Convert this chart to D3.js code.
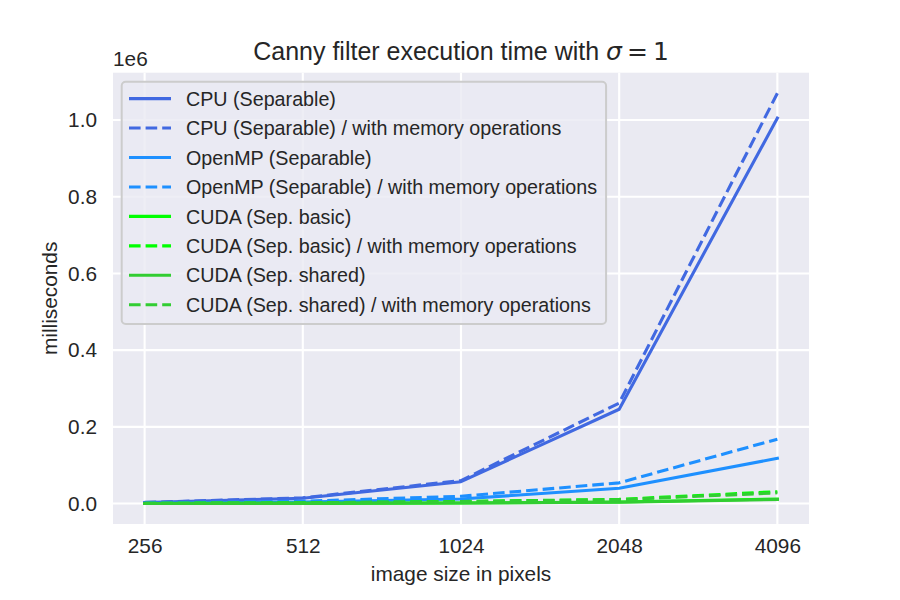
<!DOCTYPE html>
<html>
<head>
<meta charset="utf-8">
<script src="https://cdn.jsdelivr.net/npm/d3@7"></script>
<style>
  html, body { margin: 0; padding: 0; background: #ffffff; }
  svg { display: block; }
  text { font-family: "Liberation Sans", Arial, sans-serif; fill: #262626; }
</style>
</head>
<body>
<svg id="chart" width="900" height="600"></svg>
<script>
// ---- Data ----
const sizes = ["256", "512", "1024", "2048", "4096"];
const cpuSep        = [2500, 14000, 57000, 246000, 1005000];
const cpuSepMem     = [3000, 15000, 60000, 262000, 1070000];
const ompSep        = [1000, 4000, 12000, 40000, 118000];
const ompSepMem     = [1500, 6000, 19000, 54000, 168000];
const cudaBasic     = [200, 600, 1500, 4000, 12000];
const cudaBasicMem  = [600, 2000, 5500, 11000, 31000];
const cudaShared    = [200, 500, 1300, 3500, 10500];
const cudaSharedMem = [500, 1800, 5000, 10000, 28000];
const yTicks = [0, 200000, 400000, 600000, 800000, 1000000];
const yTickLabels = ["0.0", "0.2", "0.4", "0.6", "0.8", "1.0"];

const seriesNames = [
  "CPU (Separable)",
  "CPU (Separable) / with memory operations",
  "OpenMP (Separable)",
  "OpenMP (Separable) / with memory operations",
  "CUDA (Sep. basic)",
  "CUDA (Sep. basic) / with memory operations",
  "CUDA (Sep. shared)",
  "CUDA (Sep. shared) / with memory operations"
];
const seriesValues = [cpuSep, cpuSepMem, ompSep, ompSepMem, cudaBasic, cudaBasicMem, cudaShared, cudaSharedMem];
const seriesColors = ["#4169E1", "#4169E1", "#1E90FF", "#1E90FF", "#00FF00", "#00FF00", "#32CD32", "#32CD32"];
const seriesDashed = [false, true, false, true, false, true, false, true];

// ---- Layout ----
const svg = d3.select("#chart");
const pL = 113, pR = 809, pT = 72.7, pB = 524;
const FS = 20.8;
const LFS = 19.7;
const LW = 3.1;

const x = d3.scalePoint().domain(sizes).range([pL, pR]).padding(0.2);
const allVals = seriesValues.flat();
const vmin = d3.min(allVals), vmax = d3.max(allVals);
const span = vmax - vmin;
const y = d3.scaleLinear().domain([vmin - 0.05 * span, vmax + 0.05 * span]).range([pB, pT]);

// Axes background
svg.append("rect").attr("x", pL).attr("y", pT)
  .attr("width", pR - pL).attr("height", pB - pT).attr("fill", "#EAEAF2");

// Grid
const grid = svg.append("g");
grid.selectAll("line.v").data(sizes).enter().append("line")
  .attr("x1", d => x(d)).attr("x2", d => x(d)).attr("y1", pT).attr("y2", pB)
  .attr("stroke", "#ffffff").attr("stroke-width", 2.1);
grid.selectAll("line.h").data(yTicks).enter().append("line")
  .attr("x1", pL).attr("x2", pR).attr("y1", d => y(d)).attr("y2", d => y(d))
  .attr("stroke", "#ffffff").attr("stroke-width", 2.1);

// Axes (tick labels via d3 axes, no domain/tick lines)
const xAxis = svg.append("g").attr("transform", `translate(0,${pB})`)
  .call(d3.axisBottom(x).tickSize(0).tickPadding(14));
xAxis.select(".domain").remove();
xAxis.selectAll("text").attr("font-size", FS).attr("font-family", "Liberation Sans, Arial, sans-serif").attr("fill", "#262626");

const yAxis = svg.append("g").attr("transform", `translate(${pL},0)`)
  .call(d3.axisLeft(y).tickValues(yTicks).tickFormat((d, i) => yTickLabels[i]).tickSize(0).tickPadding(16));
yAxis.select(".domain").remove();
yAxis.selectAll("text").attr("font-size", FS).attr("font-family", "Liberation Sans, Arial, sans-serif").attr("fill", "#262626");

// Offset text
svg.append("text").attr("x", pL).attr("y", 66).attr("font-size", FS).text("1e6");

// Lines
const line = d3.line().x((d, i) => x(sizes[i])).y(d => y(d));
const linesG = svg.append("g");
seriesValues.forEach((vals, k) => {
  linesG.append("path").datum(vals)
    .attr("d", line)
    .attr("fill", "none")
    .attr("stroke", seriesColors[k])
    .attr("stroke-width", LW)
    .attr("stroke-linecap", seriesDashed[k] ? "butt" : "square")
    .attr("stroke-linejoin", "round")
    .attr("stroke-dasharray", seriesDashed[k] ? "11.6,5" : null);
});

// Title
const title = svg.append("text").attr("x", (pL + pR) / 2).attr("y", 60)
  .attr("text-anchor", "middle").attr("font-size", 25);
title.append("tspan").text("Canny filter execution time with ");
title.append("tspan").attr("font-family", "DejaVu Sans").attr("font-style", "italic").text("σ");
title.append("tspan").attr("font-family", "DejaVu Sans").text("\u2009=\u20091");

// Axis labels
svg.append("text").attr("x", (pL + pR) / 2).attr("y", 581)
  .attr("text-anchor", "middle").attr("font-size", FS).text("image size in pixels");
svg.append("text").attr("transform", `translate(57,${(pT + pB) / 2}) rotate(-90)`)
  .attr("text-anchor", "middle").attr("font-size", FS).text("milliseconds");

// Legend
const lg = svg.append("g");
const legBox = lg.append("rect");
const rowY0 = 98.6, rowStep = 29.45;
let maxW = 0;
seriesNames.forEach((name, k) => {
  const yy = rowY0 + k * rowStep;
  lg.append("line").attr("x1", 129).attr("x2", 171).attr("y1", yy).attr("y2", yy)
    .attr("stroke", seriesColors[k]).attr("stroke-width", LW)
    .attr("stroke-dasharray", seriesDashed[k] ? "11.6,5" : null);
  const t = lg.append("text").attr("x", 186).attr("y", yy + 7.1).attr("font-size", LFS).text(name);
  maxW = Math.max(maxW, t.node().getComputedTextLength());
});
legBox.attr("x", 121.7).attr("y", 81.7)
  .attr("width", 186 + maxW + 9 - 121.7).attr("height", 324 - 81.7)
  .attr("rx", 4).attr("ry", 4)
  .attr("fill", "#EAEAF2").attr("fill-opacity", 0.8)
  .attr("stroke", "#cccccc").attr("stroke-width", 2);
</script>
</body>
</html>
